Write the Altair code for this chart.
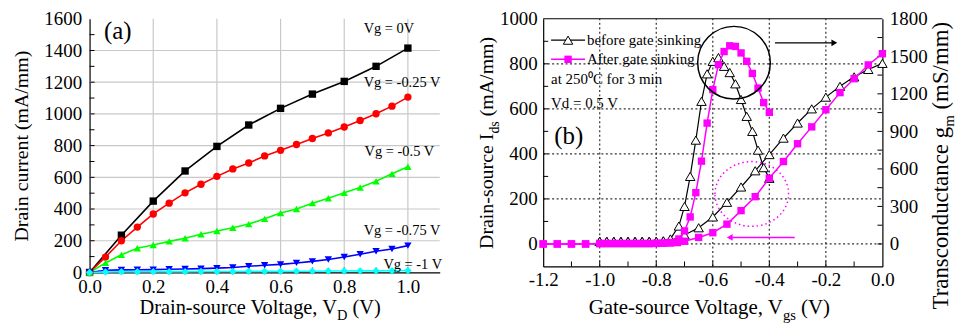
import altair as alt
import pandas as pd

FONT = "Liberation Serif"

# ---------------- Panel (a) data ----------------
vd_coarse = [0.0, 0.1, 0.2, 0.3, 0.4, 0.5, 0.6, 0.7, 0.8, 0.9, 1.0]
id_vg0 = [0, 235, 450, 640, 795, 930, 1035, 1125, 1205, 1300, 1415]
vd_fine = [0.0, 0.05, 0.1, 0.15, 0.2, 0.25, 0.3, 0.35, 0.4, 0.45, 0.5,
           0.55, 0.6, 0.65, 0.7, 0.75, 0.8, 0.85, 0.9, 0.95, 1.0]
id_vg025 = [0, 97, 200, 286, 369, 437, 502, 556, 606, 653, 690,
            735, 770, 807, 845, 880, 917, 958, 1001, 1049, 1106]
id_vg05 = [0, 60, 111, 153, 173, 196, 216, 241, 261, 282, 305,
           338, 375, 400, 437, 468, 502, 536, 575, 622, 667]
id_vg075 = [0, 14, 16, 17, 18, 20, 22, 24, 27, 31, 39,
            45, 51, 60, 70, 82, 97, 115, 134, 148, 169]
id_vg1 = [0, 3, 4, 4, 5, 5, 5, 6, 6, 6, 7,
          7, 7, 8, 8, 9, 9, 10, 10, 11, 12]
series_a = ["Vg = 0V", "Vg = -0.25 V", "Vg = -0.5 V", "Vg = -0.75 V", "Vg = -1 V"]
colors_a = ["#000000", "#ff0000", "#00ff00", "#0000ff", "#00ffff"]
shapes_a = ["square", "circle", "triangle-up", "triangle-down", "diamond"]
xticks_a = [0.0, 0.2, 0.4, 0.6, 0.8, 1.0]
yticks_a = [0, 200, 400, 600, 800, 1000, 1200, 1400, 1600]
xgrid_a = [0.2, 0.4, 0.6, 0.8, 1.0]
ygrid_a = [200, 400, 600, 800, 1000, 1200, 1400]
xminor_a = [0.1, 0.2, 0.3, 0.4, 0.5, 0.6, 0.7, 0.8, 0.9, 1.0]
yminor_a = [100, 200, 300, 400, 500, 600, 700, 800, 900, 1000, 1100, 1200, 1300, 1400, 1500]
# label anchors (data units of panel a)
label_pos_a = [(0.861, 1538), (0.861, 1195), (0.864, 760), (0.861, 262), (0.923, 44)]
tag_pos_a = (0.045, 1525)
xtitle_pos_a = (0.777, -263)

# ---------------- Panel (b) data ----------------
vgs_ids_before = [-1.0, -0.975, -0.95, -0.925, -0.9, -0.875, -0.85, -0.825, -0.8, -0.775, -0.75,
                  -0.7, -0.65, -0.6, -0.55, -0.5, -0.45, -0.4, -0.35, -0.3, -0.25, -0.2, -0.15,
                  -0.1, -0.05, 0.0]
ids_before = [12, 12, 12, 12, 12, 12, 12, 12, 12, 13, 15,
              40, 72, 120, 185, 253, 325, 397, 470, 537, 600, 652, 700,
              742, 775, 802]
vgs_gm_before = [-1.0, -0.975, -0.95, -0.925, -0.9, -0.875, -0.85, -0.825, -0.8, -0.775, -0.75,
                 -0.72, -0.7, -0.68, -0.66, -0.64, -0.62, -0.6, -0.58, -0.56, -0.54, -0.52,
                 -0.5, -0.48, -0.46, -0.44, -0.42, -0.4]
gm_before = [20, 20, 20, 20, 20, 20, 20, 20, 20, 25, 40,
             143, 300, 540, 830, 1140, 1360, 1460, 1490, 1420, 1370, 1280,
             1155, 1020, 900, 750, 610, 525]
vgs_ids_after = [-1.2, -1.15, -1.1, -1.05, -1.0, -0.975, -0.95, -0.925, -0.9, -0.875, -0.85,
                 -0.825, -0.8, -0.775, -0.75, -0.725, -0.7, -0.65, -0.6, -0.55, -0.5, -0.45,
                 -0.4, -0.35, -0.3, -0.25, -0.2, -0.15, -0.1, -0.05, 0.0]
ids_after = [0, 0, 0, 0, 2, 2, 2, 2, 2, 2, 2,
             2, 3, 3, 4, 6, 12, 29, 50, 88, 148, 210,
             292, 366, 445, 520, 596, 672, 734, 795, 845]
vgs_gm_after = [-1.2, -1.15, -1.1, -1.05, -1.0, -0.975, -0.95, -0.925, -0.9, -0.875, -0.85,
                -0.825, -0.8, -0.775, -0.75, -0.72, -0.7, -0.68, -0.66, -0.64, -0.62, -0.6,
                -0.58, -0.56, -0.54, -0.52, -0.5, -0.48, -0.46, -0.44, -0.42, -0.4]
gm_after = [0, 0, 0, 0, 3, 3, 3, 3, 3, 3, 3,
            3, 4, 6, 12, 40, 104, 216, 410, 662, 966, 1234,
            1433, 1538, 1584, 1579, 1527, 1460, 1363, 1246, 1130, 1052]
xticks_b = [-1.2, -1.0, -0.8, -0.6, -0.4, -0.2, 0.0]
yticks_b = [0, 200, 400, 600, 800, 1000]
y2ticks_b = [0, 300, 600, 900, 1200, 1500, 1800]
xgrid_b = [-1.0, -0.8, -0.6, -0.4, -0.2]
ygrid_b = [0, 200, 400, 600, 800]
xminor_b = [-1.1, -1.0, -0.9, -0.8, -0.7, -0.6, -0.5, -0.4, -0.3, -0.2, -0.1]
yminor_b = [0, 100, 200, 300, 400, 500, 600, 700, 800, 900]
y2minor_b = [0, 150, 300, 450, 600, 750, 900, 1050, 1200, 1350, 1500, 1650]

# annotations of panel (b), in data units (Ids scale for y)
circle_b = {"x": [-0.525], "y": [805]}
ellipse_b = {"x": [-0.462], "y": [222]}
arrow_right = {"x1": [-0.38], "x2": [-0.17], "y": [893]}
arrow_left = {"x1": [-0.31], "x2": [-0.54], "y": [29]}
legend_rows_b = [905, 820]
legend_x_b = {"line0": -1.172, "line1": -1.052, "sym": -1.112, "text": -1.045}
note_pos_b = {"cond": (-1.172, 733), "vd": (-1.172, 625), "tag": (-1.161, 480)}
xtitle_pos_b = (-0.352, -312)
ytitle_pos_b = (-1.376, 490)
y2title_pos_b = (0.2323, 520)

WA, HA = 352, 255
WB, HB = 341, 249
MAG = "#ff00ff"

# ---------------- scales / axes ----------------
AX_A = alt.Axis(values=xticks_a, format=".1f", labelFlush=False, labelOverlap=False, ticks=False,
                grid=False, title=None, labelPadding=5, labelFontSize=19, domainColor="black",
                domainWidth=1.2, labelColor="black", labelFont=FONT)
AY_A = alt.Axis(values=yticks_a, format="d", ticks=False, grid=False, title="Drain current (mA/mm)",
                titleFont=FONT, titleFontSize=20, titleFontWeight="normal", titlePadding=12,
                titleColor="black", labelFontSize=19, labelPadding=8, labelColor="black",
                domainColor="black", domainWidth=1.2, labelFont=FONT, labelOverlap=False)
SX_A = alt.Scale(domain=[0, 1.1], nice=False, zero=False)
SY_A = alt.Scale(domain=[0, 1600], nice=False, zero=False)


def XA(f):
    return alt.X(f + ":Q", scale=SX_A, axis=AX_A)


def YA(f):
    return alt.Y(f + ":Q", scale=SY_A, axis=AY_A)


AX_B = alt.Axis(values=xticks_b, format=".1f", labelExpr="replace(datum.label, '\u2212', '-')",
                labelFlush=False, labelOverlap=False, ticks=False, grid=False, title=None,
                labelPadding=4, labelFontSize=19, domainColor="black", domainWidth=1.2,
                labelColor="black", labelFont=FONT)
AYL_B = alt.Axis(values=yticks_b, format="d", orient="left", ticks=False, grid=False, title=None,
                 labelPadding=6, labelFontSize=19, labelColor="black", domainColor="black",
                 domainWidth=1.2, labelFont=FONT, labelOverlap=False)
AYR_B = alt.Axis(values=y2ticks_b, format="d", orient="right", ticks=False, grid=False, title=None,
                 labelPadding=7, labelFontSize=19, labelColor="black", domainColor="black",
                 domainWidth=1.2, labelFont=FONT, labelOverlap=False)
SX_B = alt.Scale(domain=[-1.2, 0.0], nice=False, zero=False)


def XB(f):
    return alt.X(f + ":Q", scale=SX_B, axis=AX_B)


def YI(f, axis=None):
    return alt.Y(f + ":Q", scale=alt.Scale(domain=[-100, 1000], nice=False, zero=False), axis=axis)


def YG(f, axis=None):
    return alt.Y(f + ":Q", scale=alt.Scale(domain=[-180, 1800], nice=False, zero=False), axis=axis)


def note(sx, sy, x, y, text, size=15, align="left", baseline="middle", angle=0, dx=0, dy=0, color="black"):
    return alt.Chart(pd.DataFrame({"x": [x], "y": [y]})).mark_text(
        text=text, font=FONT, fontSize=size, align=align, baseline=baseline,
        angle=angle, dx=dx, dy=dy, color=color
    ).encode(x=sx("x"), y=sy("y"))


def sub_title(sx, sy, pos, head, sub, tail, size, subsize, subw, angle=0):
    x, y = pos
    return [
        note(sx, sy, x, y, head, size, align="right", baseline="alphabetic", angle=angle),
        note(sx, sy, x, y, sub, subsize, align="left", baseline="alphabetic", angle=angle, dy=0.28 * size),
        note(sx, sy, x, y, tail, size, align="left", baseline="alphabetic", angle=angle, dx=subw + 0.25 * size),
    ]


# ---------------- Panel (a) ----------------
df_a = pd.concat([
    pd.DataFrame({"vd": vd_coarse, "id": id_vg0, "s": series_a[0]}),
    pd.DataFrame({"vd": vd_fine, "id": id_vg025, "s": series_a[1]}),
    pd.DataFrame({"vd": vd_fine, "id": id_vg05, "s": series_a[2]}),
    pd.DataFrame({"vd": vd_fine, "id": id_vg075, "s": series_a[3]}),
    pd.DataFrame({"vd": vd_fine, "id": id_vg1, "s": series_a[4]}),
], ignore_index=True)

col_a = alt.Color("s:N", scale=alt.Scale(domain=series_a, range=colors_a), legend=None)
shp_a = alt.Shape("s:N", scale=alt.Scale(domain=series_a, range=shapes_a), legend=None)

grid_va = alt.Chart(pd.DataFrame({"v": xgrid_a, "a": 0, "b": 1600})).mark_rule(
    color="#c8c8c8", strokeWidth=1.2).encode(x=XA("v"), y=YA("a"), y2="b:Q")
grid_ha = alt.Chart(pd.DataFrame({"v": ygrid_a, "a": 0.0, "b": 1.1})).mark_rule(
    color="#c8c8c8", strokeWidth=1.2).encode(y=YA("v"), x=XA("a"), x2="b:Q")
tick_xa = alt.Chart(pd.DataFrame({"v": xminor_a, "b": 0})).mark_tick(
    orient="vertical", size=5, thickness=1, color="black", opacity=1, yOffset=-2.5
).encode(x=XA("v"), y=YA("b"))
tick_ya = alt.Chart(pd.DataFrame({"v": yminor_a, "b": 0.0})).mark_tick(
    orient="horizontal", size=5, thickness=1, color="black", opacity=1, xOffset=2.5
).encode(x=XA("b"), y=YA("v"))
lines_a = alt.Chart(df_a).mark_line(strokeWidth=1.6).encode(
    x=XA("vd"), y=YA("id"), color=col_a, detail="s:N")
pts_a = alt.Chart(df_a).mark_point(filled=True, size=55, opacity=1).encode(
    x=XA("vd"), y=YA("id"), color=col_a, shape=shp_a)

labels_a = [note(XA, YA, tag_pos_a[0], tag_pos_a[1], "(a)", 25)]
for s, (lx, ly) in zip(series_a, label_pos_a):
    labels_a.append(note(XA, YA, lx, ly, s, 14.5))
xtitle_a = sub_title(XA, YA, xtitle_pos_a, "Drain-source Voltage, V", "D", "(V)", 20.5, 14.5, 10.5)

panel_a = alt.layer(grid_va, grid_ha, tick_xa, tick_ya, lines_a, pts_a, *labels_a, *xtitle_a).properties(
    width=WA, height=HA)

# ---------------- Panel (b) ----------------
df_ib = pd.DataFrame({"x": vgs_ids_before, "y": ids_before})
df_gb = pd.DataFrame({"x": vgs_gm_before, "y": gm_before})
df_ia = pd.DataFrame({"x": vgs_ids_after, "y": ids_after})
df_ga = pd.DataFrame({"x": vgs_gm_after, "y": gm_after})

DOT = [2, 2.5]
grid_vb = alt.Chart(pd.DataFrame({"v": xgrid_b, "a": -100, "b": 1000})).mark_rule(
    color="#333333", strokeWidth=1.2, strokeDash=DOT).encode(x=XB("v"), y=YI("a"), y2="b:Q")
grid_hb = alt.Chart(pd.DataFrame({"v": ygrid_b, "a": -1.2, "b": 0.0})).mark_rule(
    color="#333333", strokeWidth=1.2, strokeDash=DOT).encode(y=YI("v", AYL_B), x=XB("a"), x2="b:Q")
tick_xb = alt.Chart(pd.DataFrame({"v": xminor_b, "b": -100})).mark_tick(
    orient="vertical", size=5, thickness=1, color="black", opacity=1, yOffset=-2.5
).encode(x=XB("v"), y=YI("b"))
tick_yb = alt.Chart(pd.DataFrame({"v": yminor_b, "b": -1.2})).mark_tick(
    orient="horizontal", size=5, thickness=1, color="black", opacity=1, xOffset=2.5
).encode(x=XB("b"), y=YI("v"))
tick_y2b = alt.Chart(pd.DataFrame({"v": y2minor_b, "b": 0.0})).mark_tick(
    orient="horizontal", size=5, thickness=1, color="black", opacity=1, xOffset=-2.5
).encode(x=XB("b"), y=YG("v", AYR_B))
top_b = alt.Chart(pd.DataFrame({"v": [1000], "a": [-1.2], "b": [0.0]})).mark_rule(
    color="black", strokeWidth=1.2).encode(y=YI("v"), x=XB("a"), x2="b:Q")

tri = dict(shape="triangle-up", size=90, filled=True, fill="white", stroke="black", strokeWidth=1, opacity=1)
sq = dict(shape="square", size=55, filled=True, color=MAG, opacity=1)

l_ib = alt.Chart(df_ib).mark_line(color="black", strokeWidth=1.2).encode(x=XB("x"), y=YI("y"))
p_ib = alt.Chart(df_ib).mark_point(**tri).encode(x=XB("x"), y=YI("y"))
l_gb = alt.Chart(df_gb).mark_line(color="black", strokeWidth=1.2).encode(x=XB("x"), y=YG("y"))
p_gb = alt.Chart(df_gb).mark_point(**tri).encode(x=XB("x"), y=YG("y"))
l_ia = alt.Chart(df_ia).mark_line(color=MAG, strokeWidth=1.5).encode(x=XB("x"), y=YI("y"))
p_ia = alt.Chart(df_ia).mark_point(**sq).encode(x=XB("x"), y=YI("y"))
l_ga = alt.Chart(df_ga).mark_line(color=MAG, strokeWidth=1.5).encode(x=XB("x"), y=YG("y"))
p_ga = alt.Chart(df_ga).mark_point(**sq).encode(x=XB("x"), y=YG("y"))

circ = alt.Chart(pd.DataFrame(circle_b)).mark_point(
    shape="circle", size=73 * 73, filled=False, stroke="black", strokeWidth=1.5, opacity=1
).encode(x=XB("x"), y=YI("y"))
ELLIPSE = "M -1 0 A 1 0.88 0 1 1 1 0 A 1 0.88 0 1 1 -1 0 Z"
ell = alt.Chart(pd.DataFrame(ellipse_b)).mark_point(
    shape=ELLIPSE, size=74 * 74, filled=False, stroke=MAG, strokeWidth=1.5, strokeDash=[1.5, 3], opacity=1
).encode(x=XB("x"), y=YI("y"))
arr_r = alt.Chart(pd.DataFrame(arrow_right)).mark_rule(color="black", strokeWidth=1.5).encode(
    x=XB("x1"), x2="x2:Q", y=YI("y"))
arr_r_head = alt.Chart(pd.DataFrame(arrow_right)).mark_point(
    shape="triangle-right", size=45, filled=True, color="black", opacity=1).encode(x=XB("x2"), y=YI("y"))
arr_l = alt.Chart(pd.DataFrame(arrow_left)).mark_rule(color=MAG, strokeWidth=1.5).encode(
    x=XB("x1"), x2="x2:Q", y=YI("y"))
arr_l_head = alt.Chart(pd.DataFrame(arrow_left)).mark_point(
    shape="triangle-left", size=45, filled=True, color=MAG, opacity=1).encode(x=XB("x2"), y=YI("y"))

leg_line = pd.DataFrame({"x": [legend_x_b["line0"]] * 2, "x2": [legend_x_b["line1"]] * 2,
                         "y": legend_rows_b})
leg_b = [
    alt.Chart(leg_line.iloc[[0]]).mark_rule(color="black", strokeWidth=1.2).encode(x=XB("x"), x2="x2:Q", y=YI("y")),
    alt.Chart(pd.DataFrame({"x": [legend_x_b["sym"]], "y": [legend_rows_b[0]]})).mark_point(**tri).encode(
        x=XB("x"), y=YI("y")),
    note(XB, YI, legend_x_b["text"], legend_rows_b[0], "before gate sinking", 15),
    alt.Chart(leg_line.iloc[[1]]).mark_rule(color=MAG, strokeWidth=1.5).encode(x=XB("x"), x2="x2:Q", y=YI("y")),
    alt.Chart(pd.DataFrame({"x": [legend_x_b["sym"]], "y": [legend_rows_b[1]]})).mark_point(**sq).encode(
        x=XB("x"), y=YI("y")),
    note(XB, YI, legend_x_b["text"], legend_rows_b[1], "After gate sinking", 15),
    note(XB, YI, *note_pos_b["cond"], "at 250\u2070C for 3 min", 15),
    note(XB, YI, *note_pos_b["vd"], "Vd = 0.5 V", 15),
    note(XB, YI, *note_pos_b["tag"], "(b)", 25),
]
xtitle_b = sub_title(XB, YI, xtitle_pos_b, "Gate-source Voltage, V", "gs", "(V)", 21, 14.7, 13)
ytitle_b = sub_title(XB, YI, ytitle_pos_b, "Drain-source I", "ds", "(mA/mm)", 20, 14, 12.4, angle=270)
y2title_b = sub_title(XB, YI, y2title_pos_b, "Transconductance g", "m", "(mS/mm)", 23, 15, 11.7, angle=270)

panel_b = alt.layer(
    grid_vb, grid_hb, tick_xb, tick_yb, tick_y2b, top_b,
    l_ib, p_ib, l_gb, p_gb, l_ia, p_ia, l_ga, p_ga,
    circ, ell, arr_r, arr_r_head, arr_l, arr_l_head,
    *leg_b, *xtitle_b, *ytitle_b, *y2title_b
).resolve_scale(y="independent").properties(width=WB, height=HB)

chart = alt.hconcat(panel_a, panel_b, spacing=33).properties(
    padding={"left": 3, "top": 0, "right": 0, "bottom": 0}
).configure(font=FONT).configure_view(stroke="transparent").configure_axis(
    labelFont=FONT, titleFont=FONT
).configure_text(font=FONT)

chart.save("out.html", embed_options={"renderer": "svg", "actions": False})
